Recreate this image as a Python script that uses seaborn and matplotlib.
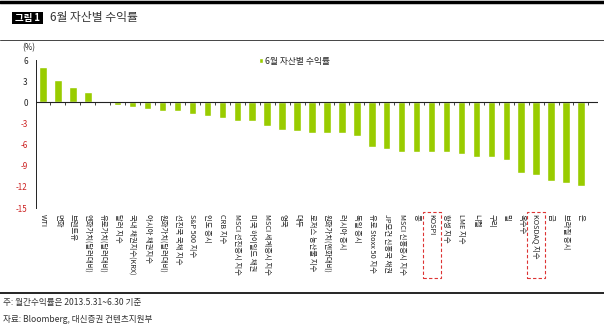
import matplotlib
matplotlib.use("Agg")
import matplotlib.pyplot as plt
import seaborn as sns
import numpy as np
import pandas as pd
from matplotlib.patches import Rectangle
from matplotlib.lines import Line2D

# ---- data ----
categories = [
    "WTI", "면화", "브렌트유", "엔화가치(달러대비)", "유로가치(달러대비)", "달러 지수",
    "국내 채권지수(KRX)", "아시아 채권지수", "원화가치(달러대비)", "선진국 국채 지수",
    "S&P 500 지수", "인도 증시", "CRB 지수", "MSCI 선진증시 지수", "미국 하이일드 채권",
    "MSCI 세계증시 지수", "영국", "대두", "로저스 농산물 지수", "원화가치(엔화대비)",
    "러시아 증시", "독일 증시", "유로 Stoxx 50 지수", "JP모건 신흥국 채권",
    "MSCI 신흥증시 지수", "콩", "KOSPI", "항셍 지수", "LME 지수", "니켈", "구리", "밀",
    "옥수수", "KOSDAQ 지수", "금", "브라질 증시", "은",
]
values = [
    5.0, 3.2, 2.1, 1.4, 0.1, -0.4, -0.7, -0.9, -1.3, -1.3, -1.6, -2.0, -2.3, -2.7,
    -2.7, -3.3, -4.0, -4.1, -4.3, -4.4, -4.4, -4.8, -6.3, -6.6, -7.0, -7.0, -7.0,
    -7.1, -7.4, -7.7, -7.8, -8.2, -10.0, -10.3, -11.2, -11.5, -11.9,
]
series_name = "6월 자산별 수익률"
yticks = [6, 3, 0, -3, -6, -9, -12, -15]
highlighted = ["KOSPI", "KOSDAQ 지수"]

df = pd.DataFrame({"asset": categories, "ret": values})

sns.set_theme(style="white")
plt.rcParams["font.family"] = ["Noto Sans CJK KR", "DejaVu Sans"]

W, H = 604, 330
fig = plt.figure(figsize=(W / 100, H / 100), dpi=100)
fig.patch.set_facecolor("white")

def fx(px):
    return px / W

def fy(py):
    return 1 - py / H

ax = fig.add_axes([fx(36), fy(208), fx(598) - fx(36), fy(60) - fy(208)])
ax.set_facecolor("white")

green = "#99CC00"
sns.barplot(data=df, x="asset", y="ret", color=green, width=0.5,
            saturation=1, ax=ax, label=series_name)

n = len(categories)
ax.set_ylim(-15, 6)
ax.set_xlim(-0.47, n - 1 + 1.14)
ax.set_yticks(yticks)
ax.set_yticklabels([str(t) for t in yticks], fontsize=5.8)
ax.tick_params(axis="y", direction="in", length=3, width=0.6, pad=6, colors="#222222")
for lab, t in zip(ax.get_yticklabels(), yticks):
    lab.set_color("#CC2222" if t < 0 else "#222222")

ax.set_xticks(range(n))
ax.set_xticklabels(categories, rotation=-90, fontsize=5.3, ha="center", va="top")
ax.tick_params(axis="x", length=0, pad=4, colors="#222222")
ax.set_xlabel("")
ax.set_ylabel("")

for s in ["top", "right", "bottom"]:
    ax.spines[s].set_visible(False)
ax.spines["left"].set_color("#222222")
ax.spines["left"].set_linewidth(0.7)

# zero line with small tick marks between categories
ax.axhline(0, color="#222222", lw=0.8, zorder=3)
bounds = np.arange(n + 1) - 0.5
ax.vlines(bounds[1:], -0.35, 0, color="#222222", lw=0.6, zorder=3)

fig.text(fx(29), fy(48), "(%)", fontsize=5.8, ha="center", va="center", color="#222222")

leg = ax.legend(loc="upper center", bbox_to_anchor=(0.46, 1.075), frameon=False,
                fontsize=6.3, handlelength=0.5, handleheight=0.6, handletextpad=0.2)

# header
fig.add_artist(Line2D([0, 1], [fy(2), fy(2)], color="black", lw=2.5))
fig.add_artist(Rectangle((fx(12), fy(24)), fx(43) - fx(12), fy(12) - fy(24),
                         facecolor="black", edgecolor="none"))
fig.text(fx(27.5), fy(18), "그림 1", color="white", fontsize=6.8, fontweight="bold",
         ha="center", va="center")
fig.text(fx(50), fy(18), "6월 자산별 수익률", color="#333333", fontsize=8.5,
         ha="left", va="center")
fig.add_artist(Line2D([0, 1], [fy(40), fy(40)], color="#444444", lw=0.7))

# footer
fig.add_artist(Line2D([0, 1], [fy(293), fy(293)], color="black", lw=1.2))
fig.text(fx(3), fy(303), "주: 월간수익률은 2013.5.31~6.30 기준", color="#333333",
         fontsize=6.2, ha="left", va="center")
fig.text(fx(3), fy(319), "자료: Bloomberg, 대신증권 컨텐츠지원부", color="#333333",
         fontsize=6.2, ha="left", va="center")

# dashed highlight boxes around selected labels
fig.canvas.draw()
renderer = fig.canvas.get_renderer()
inv = fig.transFigure.inverted()
for lab in ax.get_xticklabels():
    if lab.get_text() in highlighted:
        bb = lab.get_window_extent(renderer)
        (x0, _), (x1, _) = inv.transform([(bb.x0, bb.y0), (bb.x1, bb.y1)])
        cx = (x0 + x1) / 2
        half = fx(9)
        fig.add_artist(Rectangle((cx - half, fy(278)), 2 * half, fy(212) - fy(278),
                                 fill=False, edgecolor="#DD3333", lw=0.8,
                                 linestyle=(0, (3, 2))))

fig.savefig("out.png", dpi=100, facecolor="white")
